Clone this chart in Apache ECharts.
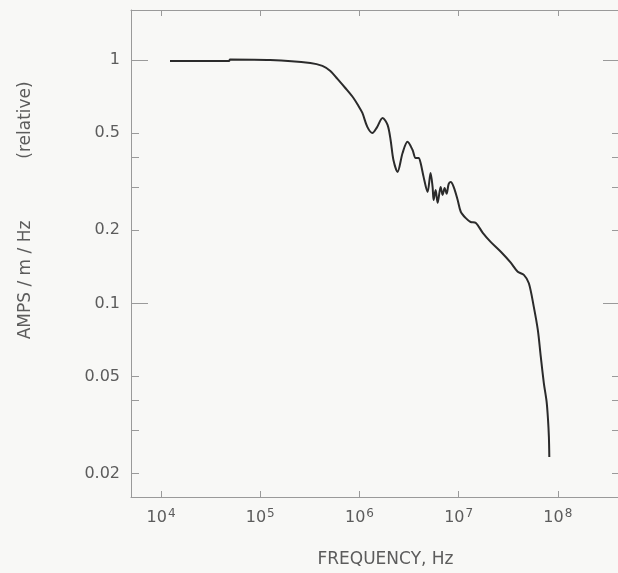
<!DOCTYPE html>
<html><head><meta charset="utf-8">
<script src="https://cdn.jsdelivr.net/npm/echarts@6/dist/echarts.min.js"></script>
<style>html,body{margin:0;padding:0;background:#f8f8f6}#c{width:618px;height:573px}</style>
</head><body><div id="c"></div>
<script>
// Frequency (Hz) and relative amplitude
const frequencyHz = [
  1.23e4, 4.86e4, 4.94e4, 1.26e5, 3.2e5, 4.23e5, 5.09e5, 6.0e5, 7.2e5, 8.7e5,
  9.77e5, 1.07e6, 1.2e6, 1.35e6, 1.49e6, 1.71e6, 1.92e6, 2.06e6, 2.2e6, 2.42e6,
  2.72e6, 3.05e6, 3.43e6, 3.68e6, 3.95e6, 4.13e6, 4.43e6, 4.86e6, 5.21e6, 5.46e6,
  5.59e6, 5.86e6, 6.14e6, 6.58e6, 6.89e6, 7.22e6, 7.56e6, 7.92e6, 8.3e6, 8.9e6,
  9.77e6, 1.05e7, 1.18e7, 1.32e7, 1.49e7, 1.75e7, 2.1e7, 2.66e7, 3.35e7, 3.94e7,
  4.54e7, 5.1e7, 5.72e7, 6.28e7, 6.73e7, 7.22e7, 7.7e7, 7.95e7, 8.12e7, 8.2e7
];
const amplitude = [
  0.99, 0.99, 1.005, 1.0, 0.972, 0.945, 0.901, 0.836, 0.767, 0.698,
  0.647, 0.606, 0.531, 0.501, 0.526, 0.578, 0.541, 0.469, 0.388, 0.347,
  0.415, 0.461, 0.427, 0.396, 0.396, 0.378, 0.331, 0.287, 0.343, 0.301,
  0.266, 0.292, 0.259, 0.301, 0.279, 0.298, 0.282, 0.309, 0.315, 0.301,
  0.266, 0.238, 0.224, 0.216, 0.214, 0.195, 0.179, 0.163, 0.147, 0.135,
  0.131, 0.121, 0.0968, 0.0778, 0.0603, 0.0471, 0.0395, 0.0335, 0.0283, 0.0234
];
const xTickExponents = [4, 5, 6, 7, 8];
const yTickLabels = [1, 0.5, 0.2, 0.1, 0.05, 0.02];
const yMinorTicks = [1, 0.5, 0.4, 0.3, 0.2, 0.1, 0.05, 0.04, 0.03, 0.02];
const yDecadeTicks = [1, 0.1];
const xRange = [4977, 4.23e8];
const yRange = [0.01603, 1.604];

const lg = Math.log10;
const xMin = lg(xRange[0]), xMax = lg(xRange[1]);
const yMin = lg(yRange[0]), yMax = lg(yRange[1]);
const seriesData = frequencyHz.map((f, i) => [lg(f), lg(amplitude[i])]);

const axisGray = '#9a9a9a';
const textGray = '#5c5c5c';
const font = 'DejaVu Sans';

function xAxisDef(position, showLabels) {
  return {
    type: 'value', position: position, min: xMin, max: xMax,
    axisLine: { show: true, onZero: false, lineStyle: { color: axisGray, width: 1 } },
    axisTick: { show: true, inside: true, length: 6, customValues: xTickExponents,
      lineStyle: { color: axisGray } },
    axisLabel: showLabels ? {
      show: true, customValues: xTickExponents, margin: 11,
      formatter: v => '{b|10}{s|' + Math.round(v) + '}',
      rich: {
        b: { fontFamily: font, fontSize: 16, color: textGray },
        s: { fontFamily: font, fontSize: 12, color: textGray, padding: [0, 0, 8, 1] }
      }
    } : { show: false },
    splitLine: { show: false }
  };
}
function yAxisDef(position, ticks, len, showLine, showLabels) {
  return {
    type: 'value', position: position, min: yMin, max: yMax, offset: 0,
    axisLine: { show: showLine, onZero: false, lineStyle: { color: axisGray, width: 1 } },
    axisTick: { show: true, inside: true, length: len, customValues: ticks.map(lg),
      lineStyle: { color: axisGray } },
    axisLabel: showLabels ? {
      show: true, customValues: yTickLabels.map(lg), margin: 11,
      fontFamily: font, fontSize: 16, color: textGray,
      formatter: v => String(Number(Math.pow(10, v).toPrecision(2)))
    } : { show: false },
    splitLine: { show: false }
  };
}

const chart = echarts.init(document.getElementById('c'), null, { renderer: 'canvas' });
const xa = xAxisDef('bottom', true);
xa.name = 'FREQUENCY, Hz';
xa.nameLocation = 'middle';
xa.nameGap = 54;
xa.nameTextStyle = { fontFamily: font, fontSize: 17, color: textGray, padding: [0, 0, 0, 20] };

chart.setOption({
  backgroundColor: '#f8f8f6',
  animation: false,
  grid: { left: 131, right: -2, top: 10, bottom: 76, containLabel: false, outerBoundsMode: 'none' },
  xAxis: [xa, xAxisDef('top', false)],
  yAxis: [
    yAxisDef('left', yMinorTicks, 8, true, true),
    yAxisDef('left', yDecadeTicks, 17, false, false),
    yAxisDef('right', yMinorTicks, 8, false, false),
    yAxisDef('right', yDecadeTicks, 17, false, false)
  ],
  graphic: [
    { type: 'text', x: 26, y: 120, rotation: Math.PI / 2,
      style: { text: '(relative)', fontFamily: font, fontSize: 17, fill: textGray,
        align: 'center', verticalAlign: 'middle' } },
    { type: 'text', x: 26, y: 280, rotation: Math.PI / 2,
      style: { text: 'AMPS / m / Hz', fontFamily: font, fontSize: 17, fill: textGray,
        align: 'center', verticalAlign: 'middle' } }
  ],
  series: [{
    type: 'line', xAxisIndex: 0, yAxisIndex: 0, data: seriesData,
    showSymbol: false, smooth: 0.3,
    lineStyle: { color: '#2b2b2b', width: 2 }
  }]
});
</script>
</body></html>
